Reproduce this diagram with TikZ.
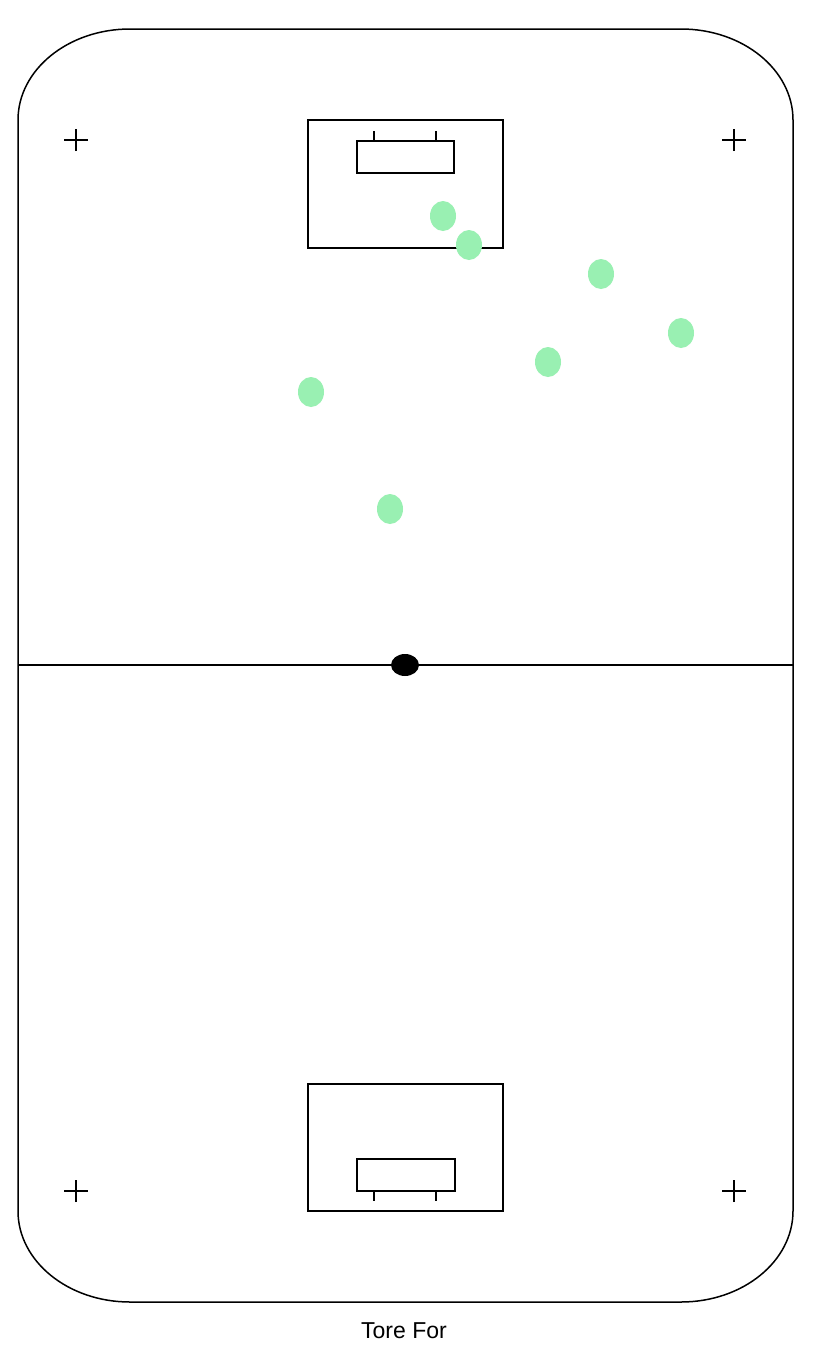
\documentclass[tikz,border=0pt]{standalone}
\usepackage{fontspec}
\setmainfont{Liberation Sans}
\usetikzlibrary{shapes.geometric}
\definecolor{player}{RGB}{153,240,178}
\tikzset{
  line/.style={draw=black, line width=1.5pt},
  playerdot/.style={ellipse, fill=player, minimum width=26pt, minimum height=30pt, inner sep=0pt},
  balldot/.style={ellipse, fill=black, minimum width=28pt, minimum height=22pt, inner sep=0pt},
  crossmark/.style={line width=1.5pt}
}
\begin{document}
\begin{tikzpicture}[x=1pt,y=1pt]
\useasboundingbox (0,0) rectangle (832,-1360);
\fill[white] (0,0) rectangle (832,-1360);
% field outline
\draw[line] (130,-29) -- (681,-29) arc[start angle=90, end angle=0, x radius=112, y radius=91]
  -- (793,-1211) arc[start angle=0, end angle=-90, x radius=112, y radius=91]
  -- (130,-1302) arc[start angle=-90, end angle=-180, x radius=112, y radius=91]
  -- (18,-120) arc[start angle=180, end angle=90, x radius=112, y radius=91] -- cycle;
% center line
\coordinate (cl) at (18,-665);
\coordinate (cr) at (793,-665);
\draw[line] (cl) -- (cr);
% top goal area
\draw[line] (308,-120) rectangle (503,-248);
\draw[line] (357,-141) rectangle (454,-173);
\draw[line] (374,-131) -- (374,-141);
\draw[line] (436,-131) -- (436,-141);
% bottom goal area
\draw[line] (308,-1084) rectangle (503,-1211);
\draw[line] (357,-1159) rectangle (455,-1191);
\draw[line] (374,-1191) -- (374,-1201);
\draw[line] (436,-1191) -- (436,-1201);
% crosses
\foreach \cx/\cy in {76/-140, 734/-140, 76/-1191, 734/-1191}{
  \draw[crossmark] (\cx-12,\cy) -- (\cx+12,\cy);
  \draw[crossmark] (\cx,\cy-11) -- (\cx,\cy+11);
}
% ball
\node[balldot] (ball) at (405,-665) {};
% players
\node[playerdot] (p1) at (443,-216) {};
\node[playerdot] (p2) at (469,-245) {};
\node[playerdot] (p3) at (601,-274) {};
\node[playerdot] (p4) at (681,-333) {};
\node[playerdot] (p5) at (548,-362) {};
\node[playerdot] (p6) at (311,-392) {};
\node[playerdot] (p7) at (390,-509) {};
% label
\node[font=\fontsize{23}{27}\selectfont] (label) at (404,-1331) {Tore For};
\end{tikzpicture}
\end{document}
